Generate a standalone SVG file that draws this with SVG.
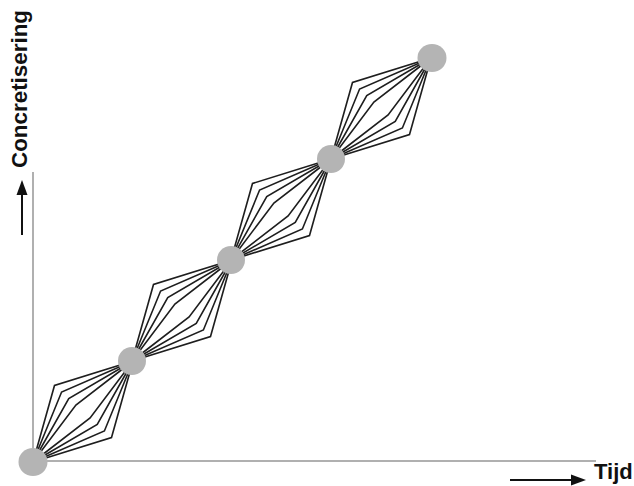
<svg xmlns="http://www.w3.org/2000/svg" xmlns:xlink="http://www.w3.org/1999/xlink" width="634" height="486" viewBox="0 0 634 486">
<style>
.axis{stroke:#b0b0b0;stroke-width:2;fill:none}
.arrow{stroke:#111;stroke-width:2;fill:none}
.head{fill:#111}
.fan polyline{fill:none;stroke:#1e1e1e;stroke-width:1.6;stroke-linejoin:miter}
.node{fill:#b4b4b4}
.lbl{font-family:"Liberation Sans",Arial,sans-serif;font-weight:bold;font-size:22px;fill:#111}
</style>
<defs>
<g id="fanShape" class="fan">
<polyline points="0,0 21.5,-76.5 100,-101"/>
<polyline points="0,0 28.6,-70 100,-101"/>
<polyline points="0,0 35.75,-63.5 100,-101"/>
<polyline points="0,0 42.9,-57 100,-101"/>
<polyline points="0,0 57.1,-44 100,-101"/>
<polyline points="0,0 64.25,-37.5 100,-101"/>
<polyline points="0,0 71.4,-31 100,-101"/>
<polyline points="0,0 78.5,-24.5 100,-101"/>
</g>
</defs>
<rect width="634" height="486" fill="#fff"/>
<g id="axes">
<line class="axis" x1="33" y1="172" x2="33" y2="462"/>
<line class="axis" x1="33" y1="461" x2="596" y2="461"/>
<line class="arrow" x1="22" y1="235" x2="22" y2="192"/>
<polygon class="head" points="22,180 16.5,195 27.5,195"/>
<line class="arrow" x1="510" y1="480" x2="573" y2="480"/>
<polygon class="head" points="586,480 571,474.5 571,485.5"/>
<text class="lbl" transform="translate(27,168) rotate(-90)" textLength="158" lengthAdjust="spacingAndGlyphs">Concretisering</text>
<text class="lbl" x="594" y="479">Tijd</text>
</g>
<g id="connectors">
<use xlink:href="#fanShape" transform="translate(33,462)"/>
<use xlink:href="#fanShape" transform="translate(132,361)"/>
<use xlink:href="#fanShape" transform="translate(231,260)"/>
<use xlink:href="#fanShape" transform="translate(331,159)"/>
</g>
<g id="n1"><ellipse class="node" cx="33" cy="462" rx="14.5" ry="14"/></g>
<g id="n2"><ellipse class="node" cx="132" cy="361" rx="14" ry="14"/></g>
<g id="n3"><ellipse class="node" cx="231" cy="260" rx="14" ry="14"/></g>
<g id="n4"><ellipse class="node" cx="331" cy="159" rx="14" ry="14"/></g>
<g id="n5"><ellipse class="node" cx="432" cy="58" rx="14.5" ry="14"/></g>
</svg>
